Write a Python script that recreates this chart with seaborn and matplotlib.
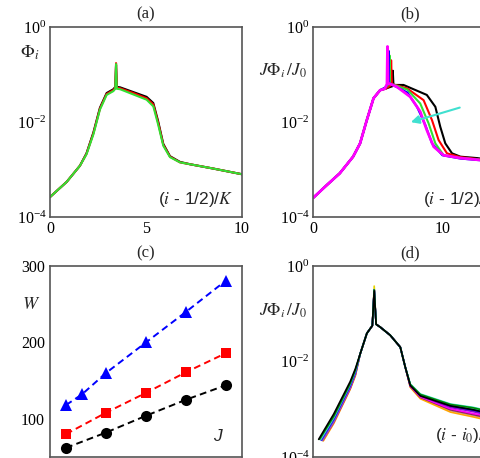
import numpy as np
import matplotlib
matplotlib.use("Agg")
import matplotlib.pyplot as plt
from matplotlib.ticker import FixedLocator, LogFormatterSciNotation, NullFormatter
import seaborn as sns

sns.set_style("white")
plt.rcParams['font.family'] = ['Liberation Serif', 'DejaVu Serif']
plt.rcParams['mathtext.fontset'] = 'stix'

# ---------------- data: panel (a) ----------------
a_x = [0, 0.87, 1.56, 1.9, 2.26, 2.6, 2.95, 3.3, 3.40, 3.44, 3.48, 3.65, 4.34, 5.03, 5.38, 5.63, 5.9, 6.25, 6.77, 7.3, 8.5, 10]
a_log_black = [-3.58, -3.26, -2.92, -2.66, -2.22, -1.70, -1.39, -1.31, -1.26, -0.80, -1.26, -1.27, -1.37, -1.47, -1.60, -1.98, -2.46, -2.72, -2.84, -2.89, -2.98, -3.1]
a_log_red = [-3.58, -3.26, -2.92, -2.67, -2.24, -1.72, -1.41, -1.33, -1.28, -0.76, -1.28, -1.29, -1.39, -1.50, -1.63, -2.01, -2.48, -2.73, -2.85, -2.89, -2.98, -3.1]
a_log_green = [-3.58, -3.26, -2.92, -2.68, -2.26, -1.74, -1.43, -1.35, -1.30, -0.78, -1.30, -1.31, -1.42, -1.53, -1.67, -2.05, -2.50, -2.74, -2.85, -2.89, -2.98, -3.1]

# ---------------- data: panel (b) ----------------
b_x_left = [0, 1.06, 2.07, 3.1, 3.64, 4.16, 4.68, 5.19]
b_log_left = [-3.6, -3.33, -3.08, -2.73, -2.45, -1.96, -1.5, -1.33]
b_x_black = [5.6, 6.0, 6.12, 6.17, 6.22, 7.0, 8.8, 9.46, 9.84, 10.23, 10.75, 11.4, 12.7, 13.2]
b_log_black = [-1.3, -1.26, -1.25, -0.92, -1.22, -1.22, -1.43, -1.68, -2.1, -2.45, -2.66, -2.73, -2.76, -2.78]
b_x_red = [5.6, 5.95, 6.0, 6.04, 6.1, 7.26, 8.55, 9.2, 9.71, 10.36, 11.4, 12.7, 13.2]
b_log_red = [-1.3, -1.24, -1.2, -0.70, -1.2, -1.29, -1.54, -1.96, -2.38, -2.66, -2.74, -2.78, -2.8]
b_x_green = [5.6, 5.88, 5.92, 5.96, 6.3, 7.3, 8.29, 8.94, 9.46, 10.1, 11.4, 12.7, 13.2]
b_log_green = [-1.28, -1.2, -0.6, -1.2, -1.22, -1.32, -1.61, -2.03, -2.45, -2.7, -2.76, -2.79, -2.8]
b_x_blue = [5.6, 5.8, 5.84, 5.88, 6.3, 7.3, 8.04, 8.68, 9.2, 10.0, 11.4, 12.7, 13.2]
b_log_blue = [-1.27, -1.2, -0.5, -1.18, -1.24, -1.38, -1.68, -2.06, -2.45, -2.7, -2.77, -2.8, -2.81]
b_x_magenta = [5.55, 5.72, 5.76, 5.8, 6.49, 7.52, 8.29, 8.8, 9.33, 10.1, 11.4, 12.9, 13.2]
b_log_magenta = [-1.3, -1.2, -0.41, -1.18, -1.26, -1.47, -1.78, -2.17, -2.52, -2.7, -2.76, -2.8, -2.81]
b_arrow_from = (11.55, 10 ** -1.68)
b_arrow_to = (7.36, 10 ** -2.02)

# ---------------- data: panel (c) ----------------
c_J = [1, 2, 3, 4, 5]
c_J_blue = [1, 1.4, 2, 3, 4, 5]
c_W_black = [62, 82, 104, 125, 144]
c_W_red = [80, 108, 134, 161, 186]
c_W_blue = [118, 132, 160, 200, 240, 281]

# ---------------- data: panel (d) ----------------
d_x_core = [-4.3, -2.55, -2.0, -1.49, -0.78, -0.2, 0, 0.2, 0.64, 1.7, 2.77, 3.3, 3.83, 4.9, 8.1, 10.5, 11.4]
d_log_core = [-1.84, -1.41, -1.25, -1.22, -1.28, -1.45, -1.7, -2.12]   # from x=-1.49 to 3.3 (peak excluded)
d_colors = ['#e6d200', '#bc8f8f', '#ffa500', '#8b2252', '#ff00ff', '#00c8c8', '#9400d3', '#0000ff', '#40e0d0', '#008b00', 'black']
d_x0 = [-5.5, -5.45, -5.4, -5.48, -5.5, -5.55, -5.6, -5.65, -5.7, -5.8, -5.9]
d_log0 = [-3.65, -3.66, -3.66, -3.65, -3.65, -3.65, -3.65, -3.64, -3.64, -3.63, -3.63]
d_left = [[-3.25, -2.54, -2.25], [-3.28, -2.57, -2.28], [-3.3, -2.58, -2.3], [-3.27, -2.56, -2.27],
          [-3.26, -2.55, -2.26], [-3.24, -2.53, -2.24], [-3.22, -2.52, -2.23], [-3.2, -2.5, -2.22],
          [-3.18, -2.48, -2.2], [-3.15, -2.46, -2.18], [-3.1, -2.42, -2.15]]
d_peak = [-0.42, -0.5, -0.5, -0.5, -0.5, -0.5, -0.5, -0.5, -0.5, -0.5, -0.52]
d_right = [[-2.5, -2.72, -2.95, -3.03, -3.07], [-2.53, -2.76, -3.03, -3.13, -3.17], [-2.54, -2.78, -3.06, -3.16, -3.2],
           [-2.52, -2.75, -3.01, -3.11, -3.15], [-2.51, -2.74, -2.99, -3.09, -3.12], [-2.49, -2.71, -2.92, -3.0, -3.04],
           [-2.5, -2.72, -2.96, -3.05, -3.09], [-2.49, -2.7, -2.93, -3.02, -3.06], [-2.47, -2.68, -2.89, -2.96, -3.0],
           [-2.48, -2.69, -2.9, -2.97, -3.01], [-2.5, -2.72, -2.93, -3.01, -3.05]]

# ---------------- figure ----------------
W_PX, H_PX = 480, 458
fig = plt.figure(figsize=(4.8, 4.58), dpi=100)


def box(l, t, w, b):
    return [l / W_PX, 1 - b / H_PX, w / W_PX, (b - t) / H_PX]


ax_a = fig.add_axes(box(50, 27, 192, 217))
ax_b = fig.add_axes(box(313, 27, 194, 217))
ax_c = fig.add_axes(box(50, 266, 192, 457))
ax_d = fig.add_axes(box(313, 266, 194, 457))

SPINE = '#555555'
TICK_FS = 11.5
TITLE_FS = 12
for ax in (ax_a, ax_b, ax_c, ax_d):
    for s in ax.spines.values():
        s.set_color(SPINE)
        s.set_linewidth(1.2)
    ax.tick_params(which='both', direction='in', colors=SPINE, labelcolor='black',
                   labelsize=TICK_FS, top=False, right=False)
    ax.tick_params(axis='y', pad=2.5)
    ax.tick_params(axis='x', pad=3)
    ax.tick_params(which='major', length=8, width=1.1)
    ax.tick_params(which='minor', length=4, width=1.1)


def line(ax, x, logy, color, lw=1.5):
    sns.lineplot(x=x, y=[10 ** v for v in logy], ax=ax, color=color, lw=lw,
                 sort=False, estimator=None)


def logaxis(ax):
    ax.set_yscale('log')
    ax.set_ylim(1e-4, 1)
    ax.yaxis.set_major_locator(FixedLocator([1e-4, 1e-2, 1]))
    ax.yaxis.set_major_formatter(LogFormatterSciNotation())
    ax.yaxis.set_minor_locator(FixedLocator([2e-4, 2e-2]))
    ax.yaxis.set_minor_formatter(NullFormatter())


# (a)
line(ax_a, a_x, a_log_black, 'black')
line(ax_a, a_x, a_log_red, 'red')
line(ax_a, a_x, a_log_green, '#33e033')
logaxis(ax_a)
ax_a.set_xlim(0, 10)
ax_a.xaxis.set_major_locator(FixedLocator([0, 5, 10]))
ax_a.xaxis.set_minor_locator(FixedLocator([2.5, 7.5]))
ax_a.set_title('(a)', fontsize=TITLE_FS, pad=6)
ax_a.set_xlabel(''); ax_a.set_ylabel('')
ax_a.text(-0.105, 0.865, r'$\Phi_i$', transform=ax_a.transAxes, fontsize=13, ha='center', va='center')
ax_a.text(0.565, 0.09, '($i$ - 1/2)/$K$', transform=ax_a.transAxes, fontsize=12.5,
          family=['Liberation Sans'], ha='left', va='center')

# (b)
for bx, by, col in ((b_x_black, b_log_black, 'black'), (b_x_red, b_log_red, 'red'),
                    (b_x_green, b_log_green, '#33e033'), (b_x_blue, b_log_blue, 'blue'),
                    (b_x_magenta, b_log_magenta, '#ff00ff')):
    line(ax_b, b_x_left + bx, b_log_left + by, col, lw=2.0 if col == '#ff00ff' else 1.5)
logaxis(ax_b)
ax_b.set_xlim(0, 15)
ax_b.xaxis.set_major_locator(FixedLocator([0, 10]))
ax_b.xaxis.set_minor_locator(FixedLocator([5]))
ax_b.set_title('(b)', fontsize=TITLE_FS, pad=6)
ax_b.set_xlabel(''); ax_b.set_ylabel('')
ax_b.annotate('', xy=b_arrow_to, xytext=b_arrow_from,
              arrowprops=dict(arrowstyle='-|>', color='#40e0d0', lw=1.5, mutation_scale=12))
ax_b.text(-0.155, 0.768, r'$J\Phi_i\,/J_0$', transform=ax_b.transAxes, fontsize=12.5, ha='center', va='center')
ax_b.text(0.567, 0.09, '($i$ - 1/2)/$K$', transform=ax_b.transAxes, fontsize=12.5,
          family=['Liberation Sans'], ha='left', va='center')

# (c)
for jx, wy, col, mk, ms in ((c_J, c_W_black, 'black', 'o', 8), (c_J, c_W_red, 'red', 's', 7),
                            (c_J_blue, c_W_blue, 'blue', '^', 8.5)):
    sns.lineplot(x=jx, y=wy, ax=ax_c, color=col, lw=1.4, linestyle=(0, (3.5, 2.2)),
                 marker=mk, markersize=ms, markeredgewidth=0, sort=False, estimator=None)
ax_c.set_xlim(0.6, 5.4)
ax_c.set_ylim(50, 300)
ax_c.xaxis.set_major_locator(FixedLocator(c_J))
ax_c.tick_params(axis='x', labelbottom=False)
ax_c.tick_params(axis='y', pad=3.5)
ax_c.yaxis.set_major_locator(FixedLocator([100, 200, 300]))
ax_c.yaxis.set_minor_locator(FixedLocator([150, 250]))
ax_c.set_title('(c)', fontsize=TITLE_FS, pad=6)
ax_c.set_xlabel(''); ax_c.set_ylabel('')
ax_c.text(-0.1, 0.796, r'$W$', transform=ax_c.transAxes, fontsize=13, ha='center', va='center')
ax_c.text(0.87, 0.105, 'J', transform=ax_c.transAxes, fontsize=12.5, style='italic',
          family=['Liberation Sans'], ha='center', va='center')

# (d)
for i, col in enumerate(d_colors):
    xs = [d_x0[i]] + d_x_core
    ys = ([d_log0[i]] + d_left[i] + d_log_core[:3] + [d_peak[i]] + d_log_core[3:] + d_right[i])
    line(ax_d, xs, ys, col, lw=1.2)
logaxis(ax_d)
ax_d.set_xlim(-6.5, 14.1)
ax_d.xaxis.set_major_locator(FixedLocator([0, 10]))
ax_d.xaxis.set_minor_locator(FixedLocator([-5, 5]))
ax_d.tick_params(axis='x', labelbottom=False)
ax_d.set_title('(d)', fontsize=TITLE_FS, pad=6)
ax_d.set_xlabel(''); ax_d.set_ylabel('')
ax_d.text(-0.155, 0.764, r'$J\Phi_i\,/J_0$', transform=ax_d.transAxes, fontsize=12.5, ha='center', va='center')
ax_d.text(0.629, 0.115, '($i$ - $i_0$)/$K$', transform=ax_d.transAxes, fontsize=12.5,
          family=['Liberation Sans'], ha='left', va='center')

fig.savefig('out.png', dpi=100)
